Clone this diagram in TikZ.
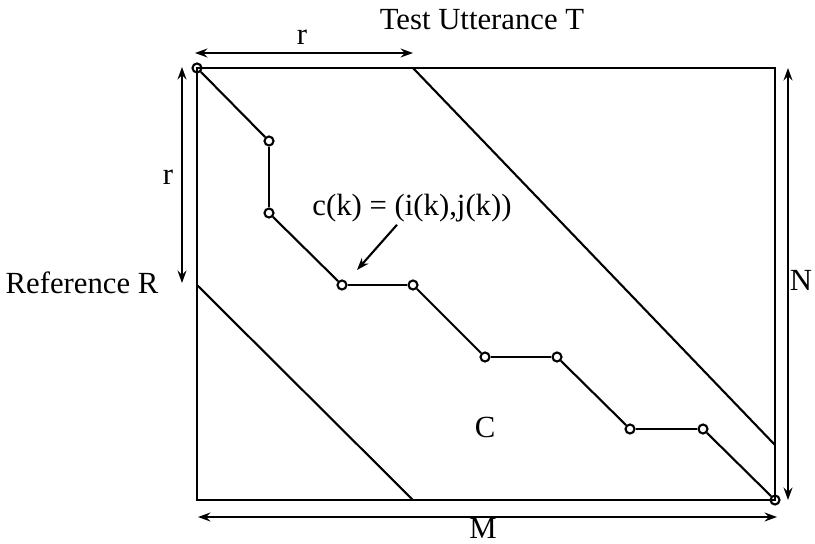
\documentclass[tikz,border=0pt]{standalone}
\usepackage{fontspec}
\setmainfont{Liberation Serif}
\usetikzlibrary{arrows.meta}
\begin{document}
\begin{tikzpicture}[x=0.02cm,y=-0.02cm,line width=1.2pt,>={Stealth[length=7pt,width=5pt]},
  pt/.style={circle,draw,inner sep=0pt,minimum size=0.18cm},
  lbl/.style={font=\fontsize{17.5}{21}\selectfont,inner sep=1pt}]
  \useasboundingbox (0,0) rectangle (815,544);
  % grid
  \draw (197,68) rectangle (775,500);
  % band limits
  \coordinate (u1) at (413,68);  \coordinate (u2) at (775,445);
  \coordinate (l1) at (197,285); \coordinate (l2) at (413,500);
  \draw (u1) -- (u2);
  \draw (l1) -- (l2);
  % warping path
  \foreach \n/\x/\y in {0/197/68,1/269/141,2/269/213,3/342/285,4/413/285,
                        5/485/357,6/557/357,7/630/429,8/703/429,9/775/500}
    \node[pt] (p\n) at (\x,\y) {};
  \foreach \a/\b in {0/1,1/2,2/3,3/4,4/5,5/6,6/7,7/8,8/9}
    \draw (p\a) -- (p\b);
  % dimensions
  \coordinate (ta) at (195,53);  \coordinate (tb) at (413,53);
  \coordinate (la) at (182,67);  \coordinate (lb) at (182,283);
  \coordinate (ra) at (788,68);  \coordinate (rb) at (788,500);
  \coordinate (ba) at (198,517); \coordinate (bb) at (777,517);
  \draw[<->] (ta) -- (tb);
  \draw[<->] (la) -- (lb);
  \draw[<->] (ra) -- (rb);
  \draw[<->] (ba) -- (bb);
  % labels
  \node[lbl] (title) at (482,20) {Test Utterance T};
  \node[lbl] (rtop) at (302,37) {r};
  \node[lbl] (rleft) at (168,177) {r};
  \node[lbl] (ref) at (82,283) {Reference R};
  \node[lbl] (nlab) at (801,280) {N};
  \node[lbl] (mlab) at (483,528) {M};
  \node[lbl] (clab) at (485,427) {C};
  \node[lbl] (ck) at (412,208) {c(k) = (i(k),j(k))};
  \coordinate (ckt) at (357,270);
  \draw[->] (ck.south) ++(-15,0) -- (ckt);
\end{tikzpicture}
\end{document}
